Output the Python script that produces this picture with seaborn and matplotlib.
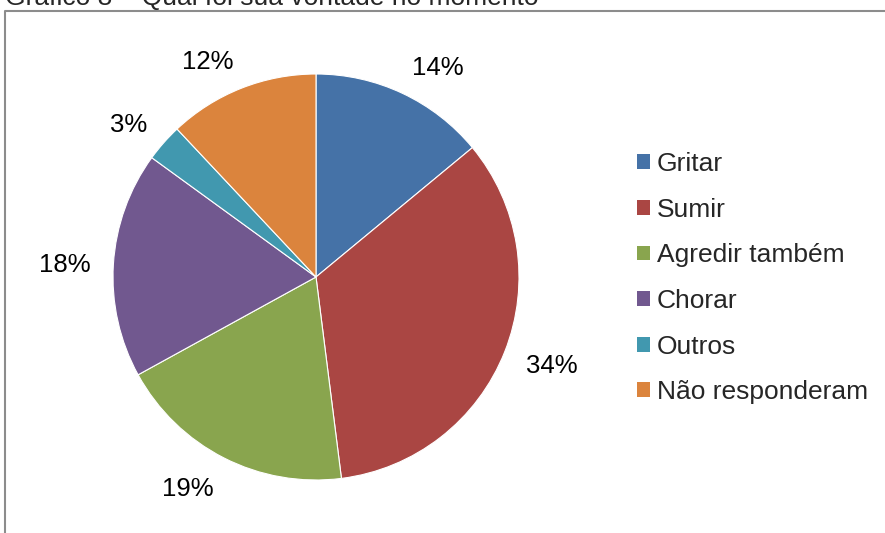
import numpy as np
import matplotlib
matplotlib.use("Agg")
import matplotlib.pyplot as plt
import seaborn as sns
from matplotlib.patches import Patch
from matplotlib.lines import Line2D

sns.set_theme(style="white")
plt.rcParams['font.family'] = ['Liberation Sans', 'DejaVu Sans']

# data
categorias = ["Gritar", "Sumir", "Agredir também", "Chorar", "Outros", "Não responderam"]
percentuais = [14, 34, 19, 18, 3, 12]
cores = ["#4572A7", "#AA4643", "#89A54E", "#71588F", "#4198AF", "#DB843D"]
titulo = "Gráfico 8 – Qual foi sua vontade no momento"

W, H = 885, 533
fig = plt.figure(figsize=(W / 100, H / 100), dpi=100)
ax = fig.add_axes([0, 0, 1, 1])

# pie centred at pixel (316, 277), radius ~203
cx, cy, R = 316, H - 277, 203
rotulos = [f"{p}%" for p in percentuais]
wedges, texts = ax.pie(
    percentuais, colors=cores, startangle=90, counterclock=False,
    center=(cx, cy), radius=R, labels=rotulos, labeldistance=1.11,
    wedgeprops=dict(edgecolor="white", linewidth=0.8),
    textprops=dict(fontsize=18.5, color="black"))
ax.set_xlim(0, W)
ax.set_ylim(0, H)
ax.set_aspect("equal")
ax.axis("off")

# push labels outward like Excel's outside-end labels
for w, t in zip(wedges, texts):
    ang = np.deg2rad((w.theta1 + w.theta2) / 2)
    x, y = t.get_position()
    t.set_position((x, y + 9.5 * np.sin(ang) - 3))
    t.set_ha("left" if np.cos(ang) > 0 else "right")

# chart frame
frame = Line2D([5, 5, W + 5], [-5, H - 11, H - 11], color="#8c8c8c", linewidth=1.5)
ax.add_line(frame)

# cut-off title at the top
fig.text(5 / W, 1 - 5 / H, titulo, fontsize=19, ha="left", va="baseline")

handles = [Patch(facecolor=c, edgecolor="none") for c in cores]
leg = ax.legend(handles, categorias, loc="upper left",
                bbox_to_anchor=(637 / W, 1 - 152 / H), frameon=False,
                fontsize=19, handlelength=0.48, handleheight=0.48,
                handletextpad=0.27, labelspacing=0.82, borderpad=0, borderaxespad=0)

fig.savefig("out.png", dpi=100)
